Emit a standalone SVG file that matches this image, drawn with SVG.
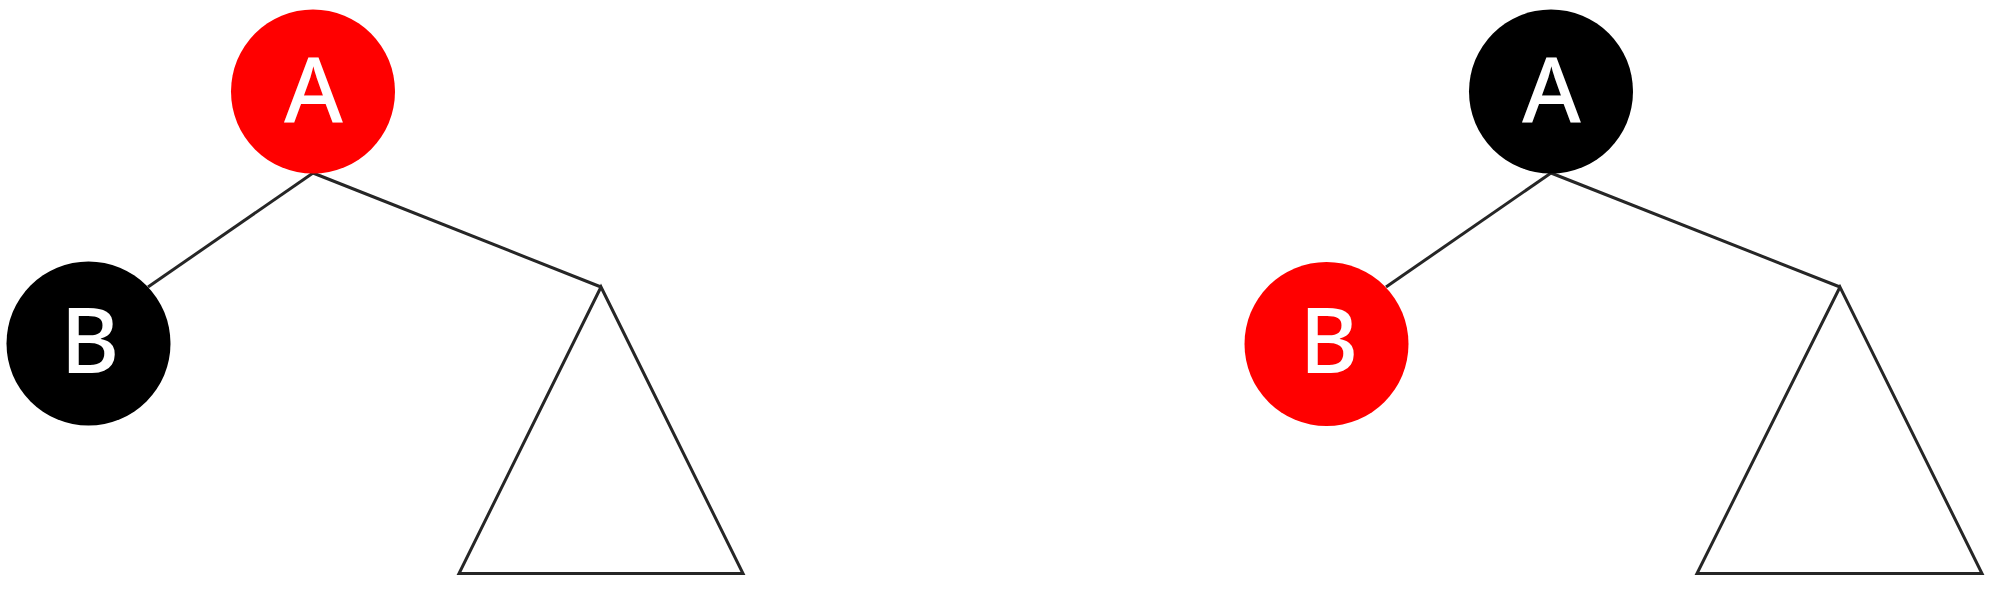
<svg xmlns="http://www.w3.org/2000/svg" width="1992" height="589" viewBox="0 0 1992 589">
<style>
.edge{stroke:#262626;stroke-width:3;fill:none;stroke-linejoin:miter}
.red{fill:#ff0000}
.blk{fill:#000000}
.lbl{fill:#ffffff;font-family:"Noto Sans","Open Sans",sans-serif;font-size:90px;font-weight:500;text-anchor:middle}
</style>
<rect width="1992" height="589" fill="#ffffff"/>
<g id="connectors">
<line class="edge" x1="313" y1="173" x2="148" y2="287"/>
<line class="edge" x1="313" y1="173" x2="601" y2="287"/>
<line class="edge" x1="1551" y1="173" x2="1386" y2="287"/>
<line class="edge" x1="1551" y1="173" x2="1840" y2="287"/>
</g>
<g id="subtree-left">
<polygon class="edge" points="601,287 459,573.5 743,573.5"/>
</g>
<g id="subtree-right">
<polygon class="edge" points="1840,287 1697,573.5 1982,573.5"/>
</g>
<g id="node-A-left">
<circle class="red" cx="313" cy="91.5" r="82"/>
<text class="lbl" x="313.5" y="123">A</text>
</g>
<g id="node-B-left">
<circle class="blk" cx="88.5" cy="343.5" r="82"/>
<text class="lbl" x="90" y="373">B</text>
</g>
<g id="node-A-right">
<circle class="blk" cx="1551" cy="91.5" r="82"/>
<text class="lbl" x="1551.5" y="123">A</text>
</g>
<g id="node-B-right">
<circle class="red" cx="1326.5" cy="344" r="82"/>
<text class="lbl" x="1329" y="373">B</text>
</g>
</svg>
